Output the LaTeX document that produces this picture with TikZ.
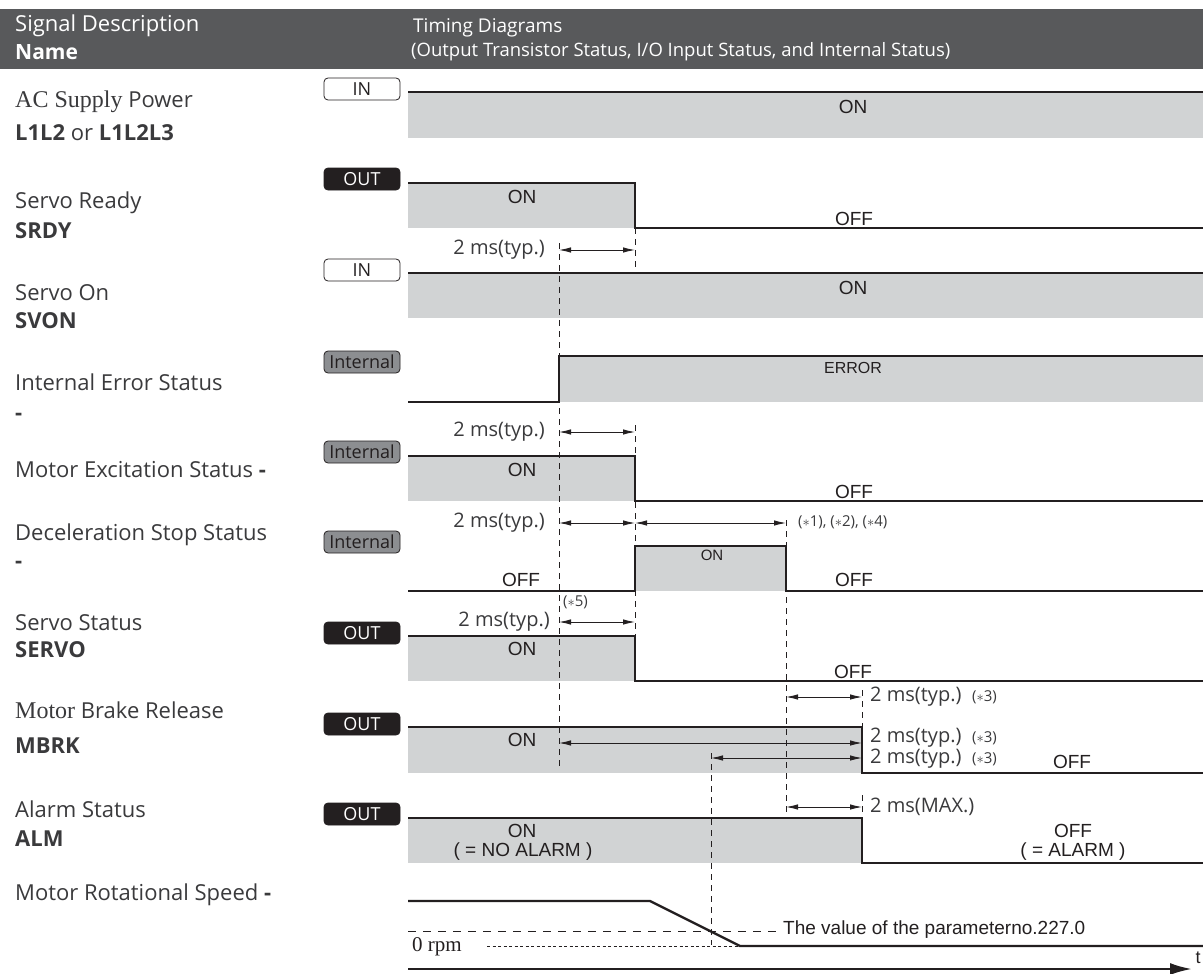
\documentclass[tikz,border=0pt]{standalone}
\usepackage{fontspec}
\setmainfont{Open Sans}
\newfontfamily\arialf{Liberation Sans}
\newfontfamily\seriff{Liberation Serif}
\usetikzlibrary{arrows.meta}
\definecolor{hdr}{HTML}{58595B}
\definecolor{fillg}{HTML}{D1D3D4}
\definecolor{ink}{HTML}{231F20}
\definecolor{intg}{HTML}{8C8E91}
\definecolor{labc}{HTML}{3A3A3C}
\newcommand\fsz[1]{\fontsize{#1}{#1}\selectfont}
\begin{document}
\begin{tikzpicture}[x=1pt,y=-1pt,
  sig/.style={line width=2.4pt, draw=ink, line join=miter},
  fillbox/.style={fill=fillg, draw=none},
  vdash/.style={draw=ink, line width=0.9pt, dash pattern=on 6pt off 5pt},
  dim/.style={draw=ink, line width=0.9pt, {Latex[length=12pt,width=5.5pt]}-{Latex[length=12pt,width=5.5pt]}},
  tagbase/.style={rounded corners=4pt, minimum width=76pt, minimum height=22pt, inner sep=0pt, line width=0.8pt, font=\fsz{18}},
  tagin/.style={tagbase, draw=ink, fill=white, text=ink},
  tagout/.style={tagbase, draw=ink, fill=ink, text=white},
  tagint/.style={tagbase, draw=ink, fill=intg, text=ink},
  hd/.style={anchor=base west, text=white, inner sep=0pt},
  lab/.style={anchor=base west, text=labc, inner sep=0pt, font=\fsz{22}},
  val/.style={text=ink, inner sep=0pt, font=\arialf\fsz{19}},
  ms/.style={text=labc, inner sep=0pt, font=\fsz{20}},
  note/.style={text=labc, inner sep=0pt, font=\fsz{15}}
]
\useasboundingbox (0,0) rectangle (1203,974);

% header
\fill[hdr] (0,9) rectangle (1203,69);
\node[hd, font=\fsz{22}] (hsig) at (15,32) {Signal Description};
\node[hd, font=\bfseries\fsz{21}] (hname) at (15,60) {Name};
\node[hd, font=\fsz{19}] (htim) at (413,33) {Timing Diagrams};
\node[hd, font=\fsz{18.5}] (hsub) at (411,57) {(Output Transistor Status, I/O Input Status, and Internal Status)};

% left labels
\node[lab] (l1a) at (15,107) {{\seriff\fsz{24}AC Supply} Power};
\node[lab] (l1b) at (15,140) {\textbf{L1L2} or \textbf{L1L2L3}};
\node[lab] (l2a) at (15,208) {Servo Ready};
\node[lab] (l2b) at (15,238) {\textbf{SRDY}};
\node[lab] (l3a) at (15,300) {Servo On};
\node[lab] (l3b) at (15,328) {\textbf{SVON}};
\node[lab] (l4a) at (15,390) {Internal Error Status};
\node[lab] (l4b) at (15,420) {\textbf{-}};
\node[lab] (l5a) at (15,477) {Motor Excitation Status \textbf{-}};
\node[lab] (l6a) at (15,540) {Deceleration Stop Status};
\node[lab] (l6b) at (15,568) {\textbf{-}};
\node[lab] (l7a) at (15,630) {Servo Status};
\node[lab] (l7b) at (15,657) {\textbf{SERVO}};
\node[lab] (l8a) at (15,718) {{\seriff\fsz{24}Motor} Brake Release};
\node[lab] (l8b) at (15,753) {\textbf{MBRK}};
\node[lab] (l9a) at (15,817) {Alarm Status};
\node[lab] (l9b) at (15,846) {\textbf{ALM}};
\node[lab] (l10a) at (15,900) {Motor Rotational Speed \textbf{-}};

% tags
\node[tagin]  (t1) at (362,89)  {IN};
\node[tagout] (t2) at (362,179) {OUT};
\node[tagin]  (t3) at (362,270) {IN};
\node[tagint] (t4) at (362,362) {Internal};
\node[tagint] (t5) at (362,452) {Internal};
\node[tagint] (t6) at (362,542) {Internal};
\node[tagout] (t7) at (362,633) {OUT};
\node[tagout] (t8) at (362,724) {OUT};
\node[tagout] (t9) at (362,814) {OUT};

% fills
\fill[fillbox] (408,92) rectangle (1203,138);
\fill[fillbox] (408,183) rectangle (635,228);
\fill[fillbox] (408,273) rectangle (1203,318);
\fill[fillbox] (559,356) rectangle (1203,402);
\fill[fillbox] (408,456) rectangle (635,501);
\fill[fillbox] (635,546) rectangle (786,591);
\fill[fillbox] (408,636) rectangle (635,681);
\fill[fillbox] (408,727) rectangle (862,773);
\fill[fillbox] (408,818) rectangle (862,863);

% dashed guide lines
\draw[vdash] (559,243) -- (559,770);
\draw[vdash] (635,228) -- (635,267);
\draw[vdash] (635,425) -- (635,642);
\draw[vdash] (786,520) -- (786,817);
\draw[vdash] (862,690) -- (862,728);
\draw[vdash] (862,795) -- (862,818);
\draw[vdash] (711,753) -- (711,945);

% signals
\draw[sig] (408,92) -- (1203,92);
\draw[sig] (408,183) -- (635,183) -- (635,228) -- (1203,228);
\draw[sig] (408,273) -- (1203,273);
\draw[sig] (408,402) -- (559,402) -- (559,356) -- (1203,356);
\draw[sig] (408,456) -- (635,456) -- (635,501) -- (1203,501);
\draw[sig] (408,591) -- (635,591) -- (635,546) -- (786,546) -- (786,591) -- (1203,591);
\draw[sig] (408,636) -- (635,636) -- (635,681) -- (1203,681);
\draw[sig] (408,727) -- (862,727) -- (862,773) -- (1203,773);
\draw[sig] (408,818) -- (862,818) -- (862,863) -- (1203,863);
\draw[sig] (408,901) -- (650,901) -- (740,946) -- (1203,946);

% speed thresholds
\draw[draw=ink, line width=0.9pt, dash pattern=on 8pt off 7pt] (408,931) -- (780,931);
\draw[draw=ink, line width=0.8pt, dash pattern=on 3pt off 2.5pt] (487,946) -- (740,946);
\node[text=ink, inner sep=0pt, anchor=west, font=\arialf\fsz{19}] (pval) at (783,930) {The value of the parameterno.227.0};
\node[text=ink, inner sep=0pt, anchor=base west, font=\seriff\fsz{21}] (zrpm) at (412,951) {0 rpm};

% time axis
\coordinate (ax0) at (408,969);
\coordinate (ax1) at (1192,969);
\draw[line width=2.4pt, draw=ink, -{Latex[length=22pt,width=12pt]}] (ax0) -- (ax1);
\node[text=ink, inner sep=0pt, font=\arialf\fsz{18}] (tlab) at (1198,958) {t};

% dimension arrows
\coordinate (d1a) at (559,250); \coordinate (d1b) at (635,250);
\draw[dim] (d1a) -- (d1b);
\node[ms, anchor=east] (m1) at (545,250) {2 ms(typ.)};
\coordinate (d2a) at (559,432); \coordinate (d2b) at (635,432);
\draw[dim] (d2a) -- (d2b);
\node[ms, anchor=east] (m2) at (545,432) {2 ms(typ.)};
\coordinate (d3a) at (559,523); \coordinate (d3b) at (635,523); \coordinate (d3c) at (786,523);
\draw[dim] (d3a) -- (d3b);
\draw[dim] (d3b) -- (d3c);
\node[ms, anchor=east] (m3) at (545,523) {2 ms(typ.)};
\node[note, anchor=west] (n124) at (798,522) {($\ast$1), ($\ast$2), ($\ast$4)};
\coordinate (d4a) at (559,622); \coordinate (d4b) at (635,622);
\draw[dim] (d4a) -- (d4b);
\node[ms, anchor=east] (m4) at (550,622) {2 ms(typ.)};
\node[note, anchor=west] (n5) at (563,602) {($\ast$5)};
\coordinate (d5a) at (786,697); \coordinate (d5b) at (862,697);
\draw[dim] (d5a) -- (d5b);
\node[ms, anchor=west] (m5) at (870,697) {2 ms(typ.)};
\node[note, anchor=west] (n3a) at (972,697) {($\ast$3)};
\coordinate (d6a) at (559,743); \coordinate (d6b) at (862,743);
\draw[dim] (d6a) -- (d6b);
\node[ms, anchor=west] (m6) at (870,738) {2 ms(typ.)};
\node[note, anchor=west] (n3b) at (972,738) {($\ast$3)};
\coordinate (d7a) at (711,758); \coordinate (d7b) at (862,758);
\draw[dim] (d7a) -- (d7b);
\node[ms, anchor=west] (m7) at (870,759) {2 ms(typ.)};
\node[note, anchor=west] (n3c) at (972,759) {($\ast$3)};
\coordinate (d8a) at (786,807); \coordinate (d8b) at (862,807);
\draw[dim] (d8a) -- (d8b);
\node[ms, anchor=west] (m8) at (870,807) {2 ms(MAX.)};

% state values
\node[val] (v1) at (853,107) {ON};
\node[val] (v2a) at (522,197) {ON};
\node[val] (v2b) at (854,219) {OFF};
\node[val] (v3) at (853,288) {ON};
\node[val, font=\arialf\fsz{16}] (v4) at (853,368) {ERROR};
\node[val] (v5a) at (522,470) {ON};
\node[val] (v5b) at (854,492) {OFF};
\node[val] (v6a) at (521,580) {OFF};
\node[val, font=\arialf\fsz{15}] (v6b) at (712,555) {ON};
\node[val] (v6c) at (854,580) {OFF};
\node[val] (v7a) at (522,649) {ON};
\node[val] (v7b) at (853,672) {OFF};
\node[val] (v8a) at (522,740) {ON};
\node[val] (v8b) at (1072,762) {OFF};
\node[val] (v9a) at (522,831) {ON};
\node[val] (v9b) at (523,852) {( = NO ALARM )};
\node[val] (v9c) at (1073,831) {OFF};
\node[val] (v9d) at (1073,852) {( = ALARM )};
\end{tikzpicture}
\end{document}
